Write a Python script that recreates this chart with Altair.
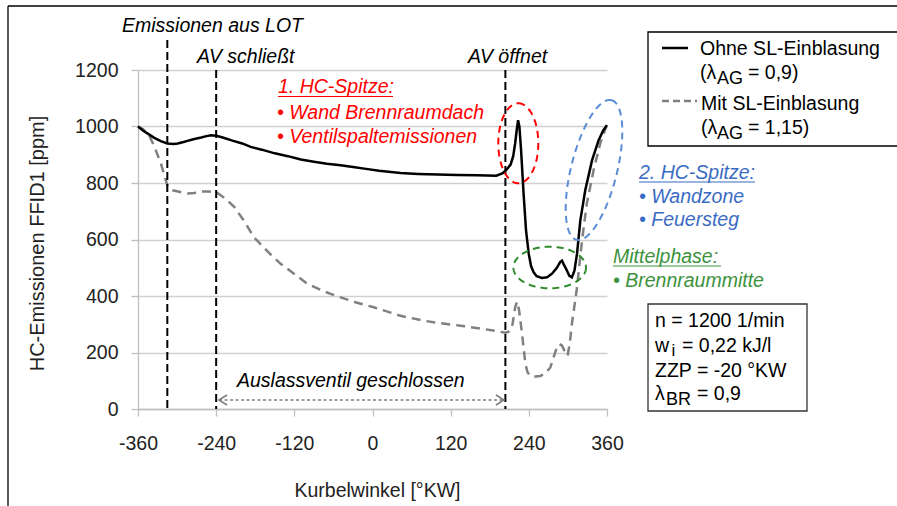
import altair as alt
import numpy as np
import pandas as pd

FONT = "Liberation Sans"

# ---- data: HC emissions [ppm] vs crank angle [°KW] ----
ohne_deg = [-360, -352, -345, -335, -325, -315, -305, -299, -290, -284, -275, -263, -255, -248, -240,
            -230, -215, -200, -187, -170, -150, -130, -110, -90, -70, -49, -30, -10, 10, 43, 70, 100,
            130, 160, 190, 200, 206, 212, 216, 219, 221.5, 223.5, 225.5, 228, 232, 235.7, 239.8, 243.5,
            247.4, 252, 260, 268, 275.6, 283, 288, 291, 294, 298.5, 302, 306, 310, 314, 319, 326.6,
            337, 347, 354, 360]
ohne_ppm = [1000, 985, 975, 960, 948, 940, 938, 940, 945, 949, 955, 961, 966, 969, 967,
            961, 950, 940, 928, 918, 905, 895, 883, 875, 868, 863, 857, 850, 843, 835, 832, 830,
            828, 827, 826, 835, 848, 865, 895, 940, 990, 1022, 1000, 920, 760, 632, 550, 505,
            484, 470, 464, 466, 479, 500, 520, 525, 510, 490, 472, 466, 490, 550, 667, 774,
            880, 951, 985, 1005]

mit_deg = [-360, -352, -343, -335, -325, -318, -314.5, -307, -295, -284, -273, -263, -252, -240,
           -226, -212, -197, -182, -160, -141, -120, -100, -75, -49, -25, 2, 43, 80, 100, 135, 165,
           185, 204, 210, 215, 219, 222, 225, 229.6, 234.7, 238, 242.3, 250, 257.6, 265, 273, 283,
           287, 291, 295, 299.5, 303, 306, 314, 321.6, 329, 339.4, 349.6, 355, 359]
mit_ppm = [1000, 990, 969, 930, 870, 815, 788, 774, 768, 763, 765, 770, 770, 768,
           745, 715, 665, 608, 555, 514, 478, 443, 417, 395, 377, 360, 330, 312, 305, 295, 285,
           278, 270, 275, 300, 360, 380, 350, 266, 160, 130, 117, 115, 117, 125, 147, 218,
           230, 224, 205, 188, 235, 300, 430, 596, 727, 845, 940, 975, 1000]

x_ticks = [-360, -240, -120, 0, 120, 240, 360]
y_ticks = [0, 200, 400, 600, 800, 1000, 1200]

event_deg = [-315, -240, 204]          # Emissionen aus LOT, AV schließt, AV öffnet
event_top = [1306, 1200, 1200]

# ---- layout (plot area in page pixels) ----
X0, W = 138, 469
Y0, H = 70, 339


def deg_of(px):
    return (np.asarray(px) - X0) / W * 720 - 360


def ppm_of(py):
    return (Y0 + H - np.asarray(py)) / H * 1200


one = pd.DataFrame({"a": [0]})

xs = alt.Scale(domain=[-360, 360], nice=False, zero=False)
ys = alt.Scale(domain=[0, 1200], nice=False, zero=False)

df_ohne = pd.DataFrame({"deg": ohne_deg, "ppm": ohne_ppm})
df_mit = pd.DataFrame({"deg": mit_deg, "ppm": mit_ppm})

LBL = "toString(datum.value)"

mit = alt.Chart(df_mit).mark_line(color="#808080", strokeWidth=2.5, strokeDash=[9, 6]).encode(
    x=alt.X("deg:Q", scale=xs,
            axis=alt.Axis(values=x_ticks, title="Kurbelwinkel [°KW]", grid=False, tickSize=7,
                          tickColor="#BFBFBF", domainColor="#BFBFBF", domainWidth=1.3, tickWidth=1.3,
                          labelFont=FONT, labelFontSize=19.5, labelColor="#222", labelPadding=18,
                          labelFlush=False, labelExpr=LBL,
                          titleFont=FONT, titleFontSize=19.5, titleFontWeight="normal", titleColor="#222",
                          titleX=239, titleY=81, titleBaseline="middle")),
    y=alt.Y("ppm:Q", scale=ys,
            axis=alt.Axis(values=y_ticks, title="HC-Emissionen FFID1 [ppm]", grid=True,
                          gridColor="#D0D0D0", gridWidth=1.3, tickSize=7, tickColor="#BFBFBF",
                          domainColor="#BFBFBF", domainWidth=1.3, tickWidth=1.3,
                          labelFont=FONT, labelFontSize=19.5, labelColor="#222", labelPadding=13,
                          labelFlush=False, labelExpr=LBL,
                          titleFont=FONT, titleFontSize=20, titleFontWeight="normal", titleColor="#222",
                          titleX=-101, titleY=173, titleAngle=-90, titleBaseline="middle")),
    order="deg:Q",
)
ohne = alt.Chart(df_ohne).mark_line(color="#000000", strokeWidth=2.5).encode(
    x="deg:Q", y="ppm:Q", order="deg:Q")

df_ev = pd.DataFrame({"deg": event_deg, "top": event_top, "bot": [0, 0, 0]})
events = alt.Chart(df_ev).mark_rule(color="#000", strokeWidth=2, strokeDash=[8, 4]).encode(
    x="deg:Q", y="top:Q", y2="bot:Q")

# arrow "Auslassventil geschlossen"
arr_y = float(ppm_of(400))
df_arr = pd.DataFrame({"d1": [float(deg_of(219))], "d2": [float(deg_of(504))], "ppm": [arr_y]})
arrow = alt.Chart(df_arr).mark_rule(color="#7F7F7F", strokeWidth=1.6, strokeDash=[3, 2.5]).encode(
    x="d1:Q", x2="d2:Q", y="ppm:Q")
head_l = alt.Chart(df_arr).mark_point(shape="M 1.6 -1 L 0 0 L 1.6 1", size=100, filled=False,
                                      color="#7F7F7F", strokeWidth=1.6, opacity=1).encode(
    x="d1:Q", y="ppm:Q")
head_r = alt.Chart(df_arr).mark_point(shape="M -1.6 -1 L 0 0 L -1.6 1", size=100, filled=False,
                                      color="#7F7F7F", strokeWidth=1.6, opacity=1).encode(
    x="d2:Q", y="ppm:Q")


def ellipse(cx, cy, a, b, tilt_deg, color):
    t = np.linspace(0, 2 * np.pi, 121)
    th = np.radians(tilt_deg)
    dx, dy = np.sin(th), -np.cos(th)      # major axis direction (tilted from vertical)
    nx, ny = np.cos(th), np.sin(th)
    px = cx + a * np.cos(t) * dx + b * np.sin(t) * nx
    py = cy + a * np.cos(t) * dy + b * np.sin(t) * ny
    d = pd.DataFrame({"deg": deg_of(px), "ppm": ppm_of(py), "i": np.arange(len(t))})
    return alt.Chart(d).mark_line(color=color, strokeWidth=2, strokeDash=[7, 5]).encode(
        x="deg:Q", y="ppm:Q", order="i:Q")


ell_red = ellipse(518.3, 143.3, 40, 20, 0, "#FF0000")
ell_blue = ellipse(594, 170, 72, 23, 14, "#5B8DD6")
ell_green = ellipse(549.7, 267.5, 36.3, 20.8, 90, "#2E8B2E")


def rel(px, py):
    return px - X0, py - Y0


def txt(s, px, py, color="#000", size=19.5, italic=False):
    x, y = rel(px, py)
    return alt.Chart(one).mark_text(text=s, align="left", baseline="alphabetic", font=FONT,
                                    fontSize=size, fontStyle="italic" if italic else "normal",
                                    color=color).encode(x=alt.value(x), y=alt.value(y))


def hline(px1, px2, py, color, width=1.2, dash=None):
    x1, y = rel(px1, py)
    x2, _ = rel(px2, py)
    kw = dict(color=color, strokeWidth=width)
    if dash:
        kw["strokeDash"] = dash
    return alt.Chart(one).mark_rule(**kw).encode(x=alt.value(x1), x2=alt.value(x2), y=alt.value(y))


def box(px1, py1, px2, py2, stroke="#000"):
    x1, y1 = rel(px1, py1)
    x2, y2 = rel(px2, py2)
    return alt.Chart(one).mark_rect(fill="white", stroke=stroke, strokeWidth=1.3).encode(
        x=alt.value(x1), x2=alt.value(x2), y=alt.value(y1), y2=alt.value(y2))


RED, BLUE, GREEN = "#FF0000", "#3A6BC4", "#3C923C"

# frame
fx, fy = rel(8, 6)
frame_top = alt.Chart(one).mark_rule(color="#000", strokeWidth=1.3).encode(
    x=alt.value(fx), x2=alt.value(897 - X0 + 5), y=alt.value(fy))
frame_left = alt.Chart(one).mark_rule(color="#000", strokeWidth=1.3).encode(
    x=alt.value(fx), y=alt.value(fy), y2=alt.value(506 - Y0 + 5))

layers = [
    mit, ohne, events, arrow, head_l, head_r, ell_red, ell_blue, ell_green,
    frame_top, frame_left,
    txt("Emissionen aus LOT", 122, 32, italic=True),
    txt("AV schließt", 197, 62.5, italic=True),
    txt("AV öffnet", 468, 62.5, italic=True),
    txt("1. HC-Spitze:", 278, 93, RED, italic=True), hline(278, 393, 96.5, RED),
    txt("• Wand Brennraumdach", 277, 118.5, RED, italic=True),
    txt("• Ventilspaltemissionen", 277, 143, RED, italic=True),
    txt("2. HC-Spitze:", 639, 178.5, BLUE, italic=True), hline(639, 755, 182, BLUE),
    txt("• Wandzone", 639, 203, BLUE, italic=True),
    txt("• Feuersteg", 639, 226, BLUE, italic=True),
    txt("Mittelphase:", 613, 263, GREEN, italic=True), hline(613, 721, 266, GREEN),
    txt("• Brennraummitte", 613, 287, GREEN, italic=True),
    txt("Auslassventil geschlossen", 237, 386.5, italic=True),
    # legend
    box(648, 32, 905, 146),
    hline(662, 688, 48, "#000", 2.5),
    hline(662, 697, 101, "#808080", 2.5, [7, 4]),
    txt("Ohne SL-Einblasung", 700, 55),
    txt("(λ", 700, 79), txt("AG", 717, 84, size=18), txt("= 0,9)", 748, 79),
    txt("Mit SL-Einblasung", 701, 109.5),
    txt("(λ", 701, 134), txt("AG", 717, 139, size=18), txt("= 1,15)", 748, 134),
    # info box
    box(648, 304, 807, 411, "#333"),
    txt("n = 1200 1/min", 655, 327),
    txt("w", 655, 352), txt("i", 671.5, 356, size=17), txt("= 0,22 kJ/l", 682, 352),
    txt("ZZP = -20 °KW", 655, 377),
    txt("λ", 655, 400), txt("BR", 666, 405, size=18), txt("= 0,9", 697, 400),
]

chart = alt.layer(*layers).properties(
    width=W, height=H,
    autosize=alt.AutoSizeParams(type="none"),
    padding={"left": X0, "top": Y0, "right": 897 - X0 - W, "bottom": 506 - Y0 - H},
    background="white",
).configure_view(stroke=None)

chart.save("out.html", embed_options={"renderer": "svg", "actions": False})
